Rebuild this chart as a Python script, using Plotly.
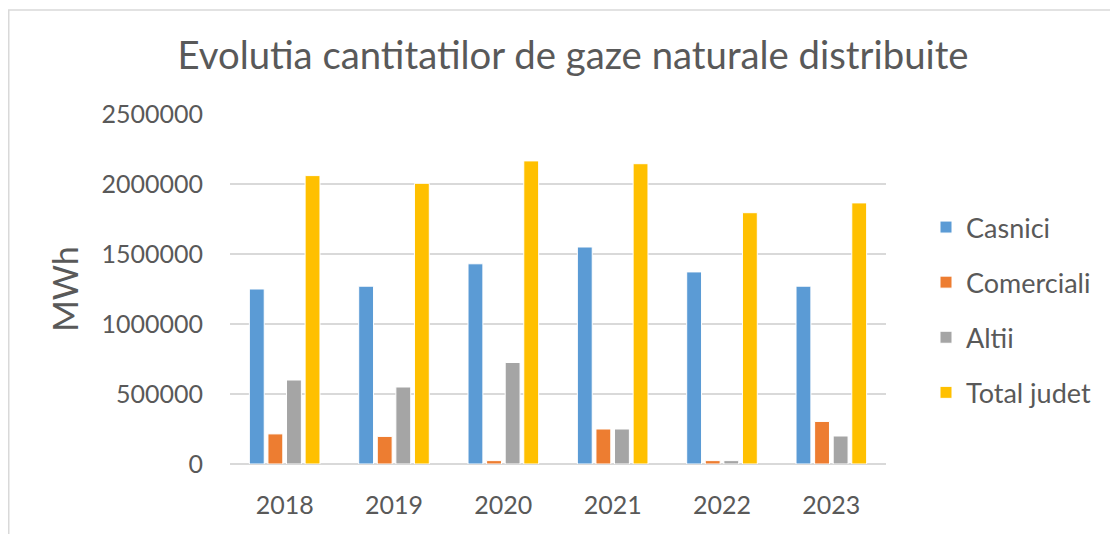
import plotly.graph_objects as go

years = ["2018", "2019", "2020", "2021", "2022", "2023"]
casnici = [1250000, 1270000, 1430000, 1550000, 1372000, 1270000]
comerciali = [215000, 197000, 24000, 250000, 24000, 304000]
altii = [600000, 550000, 725000, 250000, 24000, 200000]
total_judet = [2060000, 2005000, 2165000, 2145000, 1795000, 1865000]

series_names = ["Casnici", "Comerciali", "Altii", "Total judet"]
series_values = [casnici, comerciali, altii, total_judet]
colors = ["#5B9BD5", "#ED7D31", "#A5A5A5", "#FFC000"]

# page body has an 8px margin; work in window coordinates and convert
OFF = 8
W, H = 1118 - OFF, 534 - OFF
plot_l, plot_r, plot_t, plot_b = 230, 886, 114, 464  # window px
ml, mr = plot_l - OFF, W - (plot_r - OFF)
mt, mb = plot_t - OFF, H - (plot_b - OFF)
pw, ph = W - ml - mr, H - mt - mb

FONT = "Lato, 'Open Sans', sans-serif"
TXT = "#595959"

fig = go.Figure()
for name, vals, col in zip(series_names, series_values, colors):
    fig.add_trace(go.Bar(
        x=years, y=vals, name=name, legendgroup=name,
        marker=dict(color=col, line=dict(color="white", width=1)),
    ))

def px_x(p):  # window px -> paper x
    return (p - OFF - ml) / pw

def px_y(p):  # window px -> paper y
    return (H - mb - (p - OFF)) / ph

fig.update_layout(
    width=W, height=H,
    margin=dict(l=ml, r=mr, t=mt, b=mb),
    paper_bgcolor="white", plot_bgcolor="white",
    barmode="group", bargap=0.32, bargroupgap=0.2,
    font=dict(family=FONT, color=TXT),
    title=dict(text="Evolutia cantitatilor de gaze naturale distribuite",
               x=px_x(573), xanchor="center", xref="paper",
               y=1 - (55.5 - OFF) / H, yanchor="middle",
               font=dict(size=38.3, color=TXT, family=FONT)),
    xaxis=dict(showgrid=False, showline=False, zeroline=False,
               tickfont=dict(size=25, color=TXT), ticklabelstandoff=24),
    yaxis=dict(range=[0, 2500000], dtick=500000, tickformat="d",
               showgrid=True, gridcolor="#D9D9D9", gridwidth=2,
               zeroline=True, zerolinecolor="#D9D9D9", zerolinewidth=2,
               showline=False,
               tickfont=dict(size=25, color=TXT), ticklabelstandoff=26,
               title=dict(text="MWh", font=dict(size=34, color=TXT), standoff=12)),
    legend=dict(x=px_x(926), y=px_y(203), xanchor="left", yanchor="top",
                font=dict(size=27, color=TXT), traceorder="grouped",
                tracegroupgap=17, itemwidth=30, bgcolor="rgba(0,0,0,0)"),
    shapes=[dict(type="rect", xref="paper", yref="paper",
                 x0=px_x(OFF + 0.75), x1=px_x(1140), y0=px_y(560), y1=px_y(10),
                 line=dict(color="#D9D9D9", width=1.5), fillcolor="rgba(0,0,0,0)",
                 layer="below")],
)

fig.write_html("out.html")
